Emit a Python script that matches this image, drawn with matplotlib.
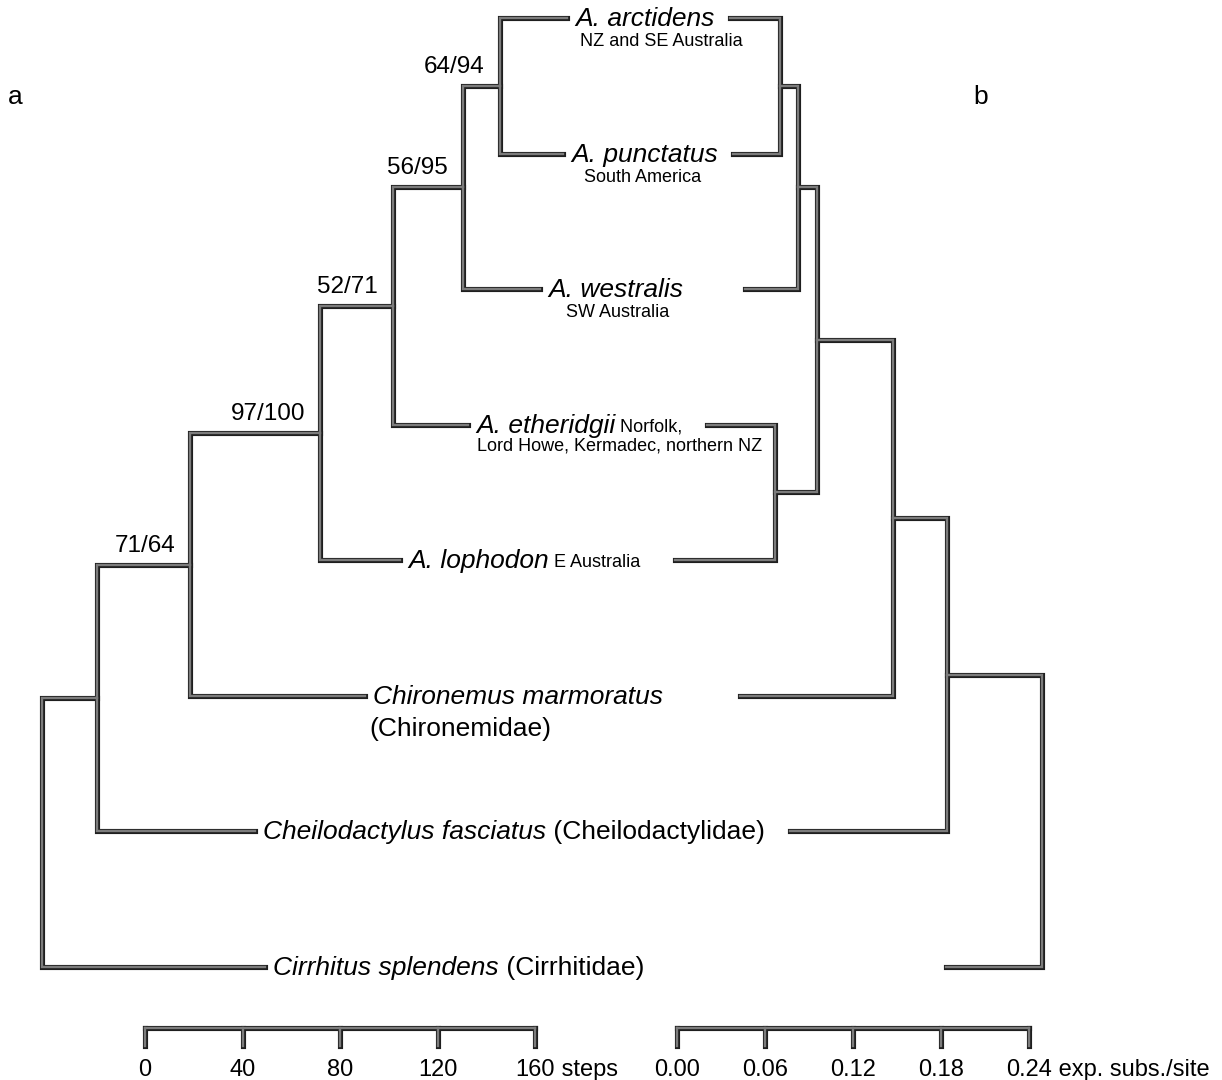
""" Two trees for Aplodactylus, parsimony (a) facing ML (b) """

import matplotlib
matplotlib.use("Agg")
import matplotlib.pyplot as plt

plt.rcParams['font.family'] = ['Liberation Sans', 'DejaVu Sans']

# taxa, top to bottom (row = index)
taxa = ["arctidens", "punctatus", "westralis", "etheridgii",
        "lophodon", "chironemus", "cheilodactylus", "cirrhitus"]

names = ["A. arctidens", "A. punctatus", "A. westralis", "A. etheridgii",
         "A. lophodon", "Chironemus marmoratus", "Cheilodactylus fasciatus",
         "Cirrhitus splendens"]
name_tail = ["", "", "", "Norfolk,", "E Australia", "",
             "(Cheilodactylidae)", "(Cirrhitidae)"]
tail_small = [False, False, False, True, True, False, False, False]
second_line = ["NZ and SE Australia", "South America", "SW Australia",
               "Lord Howe, Kermadec, northern NZ", "", "(Chironemidae)", "", ""]
second_small = [True, True, True, True, False, False, False, False]
second_dx = [5, 13, 18, 1, 0, -4, 0, 0]   # px shift of 2nd line vs name

# a) parsimony tree, x in steps. leaf branches stop where the names start
left_leaf_x = [173.1, 171.5, 162.0, 132.5, 104.6, 90.3, 45.1, 49.2]
left_nodes = [  # name, x, children
    ("a1", 145.6, ["arctidens", "punctatus"]),
    ("a2", 130.5, ["a1", "westralis"]),
    ("a3", 101.7, ["a2", "etheridgii"]),
    ("a4", 71.8, ["a3", "lophodon"]),
    ("a5", 18.5, ["a4", "chironemus"]),
    ("a6", -19.7, ["a5", "cheilodactylus"]),
    ("a7", -42.3, ["a6", "cirrhitus"]),
]
support = {"a1": "64/94", "a2": "56/95", "a3": "52/71",
           "a4": "97/100", "a5": "71/64"}

# b) ML tree, x in exp. subs./site, root on the right
right_leaf_x = [0.0361, 0.0382, 0.0464, 0.0205, -0.0014, 0.0430, 0.0770, 0.1834]
right_nodes = [
    ("b1", 0.0702, ["arctidens", "punctatus"]),
    ("b2", 0.0825, ["b1", "westralis"]),
    ("b3", 0.0668, ["etheridgii", "lophodon"]),
    ("b4", 0.0955, ["b2", "b3"]),
    ("b5", 0.1473, ["b4", "chironemus"]),
    ("b6", 0.1841, ["b5", "cheilodactylus"]),
    ("b7", 0.2489, ["b6", "cirrhitus"]),
]

steps_ticks = [0, 40, 80, 120, 160]
subs_ticks = [0.00, 0.06, 0.12, 0.18, 0.24]

EDGE = '#1e1e1e'
FILL = '#7c7c7c'
BIG, SMALL = 19, 13


def thick(ax, segs):
	# dark outline first, grey core on top, so joins look continuous
	for xs, ys in segs:
		ax.plot(xs, ys, color=EDGE, lw=3.7, solid_joinstyle='miter',
			solid_capstyle='projecting', zorder=2)
	for xs, ys in segs:
		ax.plot(xs, ys, color=FILL, lw=1.7, solid_joinstyle='miter',
			solid_capstyle='projecting', zorder=3)


def draw_tree(ax, nodes, leaf_x):
	x = dict(zip(taxa, leaf_x))
	y = {t: i for i, t in enumerate(taxa)}
	segs = []
	for name, nx, (k1, k2) in nodes:
		x[name] = nx
		y[name] = (y[k1] + y[k2]) / 2
		segs.append(([x[k1], nx, nx, x[k2]], [y[k1], y[k1], y[k2], y[k2]]))
	thick(ax, segs)
	return x, y


def scale_bar(ax, ticks, labels, unit):
	bar_y, tick_y = 7.45, 7.58
	segs = [([ticks[0], ticks[-1]], [bar_y, bar_y])]
	segs += [([t, t], [bar_y, tick_y]) for t in ticks]
	thick(ax, segs)
	last = None
	for t, lab in zip(ticks, labels):
		last = ax.annotate(lab, (t, tick_y), xytext=(0, -30), textcoords='offset pixels',
			ha='center', va='baseline', fontsize=17)
	ax.annotate(" " + unit, xy=(1, 0), xycoords=last, ha='left', va='bottom', fontsize=17)


fig = plt.figure(figsize=(12.22, 10.8), dpi=100)
axl = fig.add_axes([0, 0, 1, 1])
axr = fig.add_axes([0, 0, 1, 1])
axr.patch.set_alpha(0)

# pixel layout: 0 steps at x=145 (2.4375 px/step), 0 subs at x=677 (1466.7 px/unit)
axl.set_xlim(-145 / 2.4375, (1222 - 145) / 2.4375)
axr.set_xlim(-677 / 1466.7, (1222 - 677) / 1466.7)
for ax in (axl, axr):
	ax.set_ylim((1080 - 18) / 135.57, -18 / 135.57)
	ax.axis('off')

xl, yl = draw_tree(axl, left_nodes, left_leaf_x)
draw_tree(axr, right_nodes, right_leaf_x)

for node, txt in support.items():
	axl.annotate(txt, (xl[node], yl[node]), xytext=(-15, 13), textcoords='offset pixels',
		ha='right', va='baseline', fontsize=17.5)

for i, t in enumerate(taxa):
	lx = left_leaf_x[i]
	main = axl.annotate(names[i], (lx, i), xytext=(8, -8), textcoords='offset pixels',
		ha='left', va='baseline', fontsize=BIG, style='italic')
	if name_tail[i]:
		small = tail_small[i]
		axl.annotate(" " + name_tail[i], xy=(1, 0), xycoords=main,
			xytext=(0, 1.3 if small else 0), textcoords='offset points',
			ha='left', va='bottom', fontsize=SMALL if small else BIG)
	if second_line[i]:
		small = second_small[i]
		dy = (18 if i == 3 else 20) if small else 32
		axl.annotate(second_line[i], (lx, i), xytext=(8 + second_dx[i], -8 - dy),
			textcoords='offset pixels', ha='left', va='baseline',
			fontsize=SMALL if small else BIG)

scale_bar(axl, steps_ticks, ["{:g}".format(t) for t in steps_ticks], "steps")
scale_bar(axr, subs_ticks, ["{:.2f}".format(t) for t in subs_ticks], "exp. subs./site")

fig.text(8 / 1222, 1 - 104 / 1080, "a", fontsize=19, va='baseline')
fig.text(973 / 1222, 1 - 104 / 1080, "b", fontsize=19, va='baseline')

fig.savefig("out.png", dpi=100)
